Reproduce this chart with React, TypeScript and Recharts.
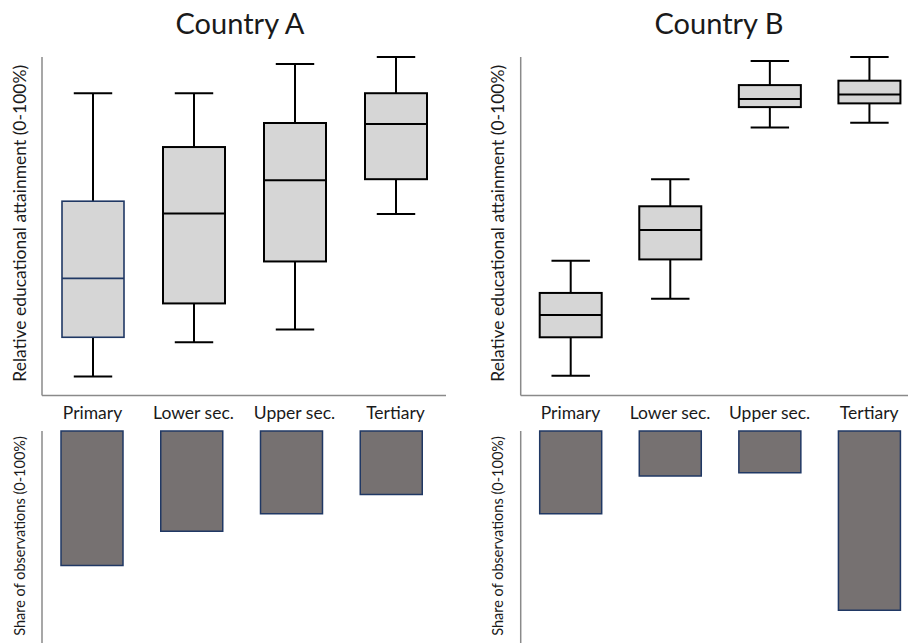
import React from 'react';
import { BarChart, Bar, XAxis, YAxis, Label } from 'recharts';

// Education levels shown on both panels
const categories = ['Primary', 'Lower sec.', 'Upper sec.', 'Tertiary'];

// Relative educational attainment (0-100): whisker low, Q1, median, Q3, whisker high
const countryAMin = [5.6, 15.7, 19.5, 53.6];
const countryAQ1 = [17.2, 27.2, 39.6, 63.9];
const countryAMedian = [34.6, 53.8, 63.6, 80.2];
const countryAQ3 = [57.4, 73.4, 80.5, 89.3];
const countryAMax = [89.3, 89.3, 97.9, 100];

const countryBMin = [5.8, 28.6, 79.2, 80.6];
const countryBQ1 = [17.2, 40.2, 85.2, 86.3];
const countryBMedian = [23.8, 48.9, 87.6, 88.9];
const countryBQ3 = [30.3, 55.9, 91.7, 93.0];
const countryBMax = [39.8, 63.9, 98.8, 100];

// Share of observations (0-100) per education level
const countryAShare = [63.5, 47.3, 39.0, 30.0];
const countryBShare = [39.0, 21.2, 19.7, 84.6];

const FONT = 'Lato, "Open Sans", sans-serif';
const AXIS_GREY = '#8a8a8a';
const BOX_FILL = '#d6d6d6';
const BAR_FILL = '#767171';
const NAVY = '#203864';
const TEXT = '#1a1a1a';

// Outline colour of each box, in category order
const boxEdgesA = [NAVY, '#000', '#000', '#000'];
const boxEdgesB = ['#000', '#000', '#000', '#000'];

type BoxRow = { name: string; min: number; q1: number; median: number; q3: number; max: number };

const buildBoxRows = (
  min: number[],
  q1: number[],
  median: number[],
  q3: number[],
  max: number[]
): BoxRow[] =>
  categories.map((name, i) => ({ name, min: min[i], q1: q1[i], median: median[i], q3: q3[i], max: max[i] }));

const buildShareRows = (share: number[]) => categories.map((name, i) => ({ name, share: share[i] }));

const boxRowsA = buildBoxRows(countryAMin, countryAQ1, countryAMedian, countryAQ3, countryAMax);
const boxRowsB = buildBoxRows(countryBMin, countryBQ1, countryBMedian, countryBQ3, countryBMax);
const shareRowsA = buildShareRows(countryAShare);
const shareRowsB = buildShareRows(countryBShare);

// The bar spans whisker low..high; the box parts are placed inside that span
const makeBoxShape = (edges: string[]) => (props: any) => {
  const { x, y, width, height, payload } = props;
  const top = Math.min(y, y + height);
  const bottom = Math.max(y, y + height);
  const span = payload.max - payload.min || 1;
  const toY = (v: number) => bottom - ((v - payload.min) / span) * (bottom - top);
  const cx = x + width / 2;
  const capHalf = width * 0.31;
  const idx = categories.indexOf(payload.name);
  const edge = edges[idx] ?? '#000';
  const edgeWidth = edge === '#000' ? 2 : 1.6;
  const yMax = toY(payload.max);
  const yQ3 = toY(payload.q3);
  const yMed = toY(payload.median);
  const yQ1 = toY(payload.q1);
  const yMin = toY(payload.min);
  return (
    <g>
      <line x1={cx} x2={cx} y1={yMax} y2={yQ3} stroke="#000" strokeWidth={2} />
      <line x1={cx} x2={cx} y1={yQ1} y2={yMin} stroke="#000" strokeWidth={2} />
      <line x1={cx - capHalf} x2={cx + capHalf} y1={yMax} y2={yMax} stroke="#000" strokeWidth={2} />
      <line x1={cx - capHalf} x2={cx + capHalf} y1={yMin} y2={yMin} stroke="#000" strokeWidth={2} />
      <rect x={x} y={yQ3} width={width} height={yQ1 - yQ3} fill={BOX_FILL} stroke={edge} strokeWidth={edgeWidth} />
      <line x1={x} x2={x + width} y1={yMed} y2={yMed} stroke={edge} strokeWidth={edgeWidth} />
    </g>
  );
};

const verticalLabel = (text: string, dx: number, size: number, dy = 0) => (props: any) => {
  const vb = props.viewBox || {};
  const lx = (vb.x ?? 0) + (vb.width ?? 0) - dx;
  const ly = (vb.y ?? 0) + (vb.height ?? 0) / 2 + dy;
  return (
    <text
      x={lx}
      y={ly}
      transform={`rotate(-90 ${lx} ${ly})`}
      textAnchor="middle"
      dominantBaseline="central"
      fontSize={size}
      fill={TEXT}
      fontFamily={FONT}
    >
      {text}
    </text>
  );
};

type PanelProps = {
  left: number;
  boxRows: BoxRow[];
  shareRows: { name: string; share: number }[];
  edges: string[];
  boxWidth: number;
  boxPlotRight: number;
  barWidth: number;
  barPlotRight: number;
  axisLeft: number;
};

const AXIS_W = 2;

const CountryPanel = ({ left, boxRows, shareRows, edges, boxWidth, boxPlotRight, barWidth, barPlotRight, axisLeft }: PanelProps) => (
  <>
    <div style={{ position: 'absolute', left, top: 0 }}>
      <BarChart
        width={boxWidth}
        height={430}
        data={boxRows}
        margin={{ top: 57, right: boxPlotRight, bottom: 4.5, left: axisLeft - AXIS_W }}
        barSize={62}
      >
        <XAxis
          dataKey="name"
          height={30}
          tickLine={false}
          tickMargin={5}
          axisLine={{ stroke: AXIS_GREY, strokeWidth: 1.5 }}
          tick={{ fontSize: 17.5, fill: TEXT, fontFamily: FONT }}
          interval={0}
        />
        <YAxis
          type="number"
          domain={[0, 100]}
          width={AXIS_W}
          tick={false}
          tickLine={false}
          axisLine={{ stroke: AXIS_GREY, strokeWidth: 1.5 }}
        >
          <Label content={verticalLabel('Relative educational attainment (0-100%)', 23, 17.5, -3)} />
        </YAxis>
        <Bar
          dataKey={(d: BoxRow) => [d.min, d.max]}
          shape={makeBoxShape(edges)}
          isAnimationActive={false}
        />
      </BarChart>
    </div>
    <div style={{ position: 'absolute', left, top: 420 }}>
      <BarChart
        width={barWidth}
        height={223}
        data={shareRows}
        margin={{ top: 11, right: barPlotRight, bottom: 0, left: axisLeft - AXIS_W }}
        barSize={62}
      >
        <XAxis
          dataKey="name"
          orientation="top"
          height={0}
          tick={false}
          tickLine={false}
          axisLine={{ stroke: AXIS_GREY, strokeWidth: 1.5 }}
        />
        <YAxis
          type="number"
          domain={[0, 100]}
          reversed
          width={AXIS_W}
          tick={false}
          tickLine={false}
          axisLine={{ stroke: AXIS_GREY, strokeWidth: 1.5 }}
        >
          <Label content={verticalLabel('Share  of observations (0-100%)', 23, 14.5, -1)} />
        </YAxis>
        <Bar dataKey="share" fill={BAR_FILL} stroke={NAVY} strokeWidth={1.5} isAnimationActive={false} />
      </BarChart>
    </div>
  </>
);

export default function App() {
  return (
    <div
      style={{
        position: 'fixed',
        left: 0,
        top: 0,
        width: 908,
        height: 643,
        overflow: 'hidden',
        background: '#fff',
        fontFamily: FONT,
      }}
    >
      <svg width={908} height={60} style={{ position: 'absolute', left: 0, top: 0 }}>
        <text x={240} y={33.5} textAnchor="middle" fontSize={29} fill={TEXT} fontFamily={FONT}>
          Country A
        </text>
        <text x={719} y={33.5} textAnchor="middle" fontSize={29} fill={TEXT} fontFamily={FONT}>
          Country B
        </text>
      </svg>
      <CountryPanel
        left={0}
        boxRows={boxRowsA}
        shareRows={shareRowsA}
        edges={boxEdgesA}
        boxWidth={460}
        boxPlotRight={14}
        barWidth={460}
        barPlotRight={19}
        axisLeft={42}
      />
      <CountryPanel
        left={454}
        boxRows={boxRowsB}
        shareRows={shareRowsB}
        edges={boxEdgesB}
        boxWidth={470}
        boxPlotRight={5}
        barWidth={470}
        barPlotRight={5}
        axisLeft={66.7}
      />
    </div>
  );
}
